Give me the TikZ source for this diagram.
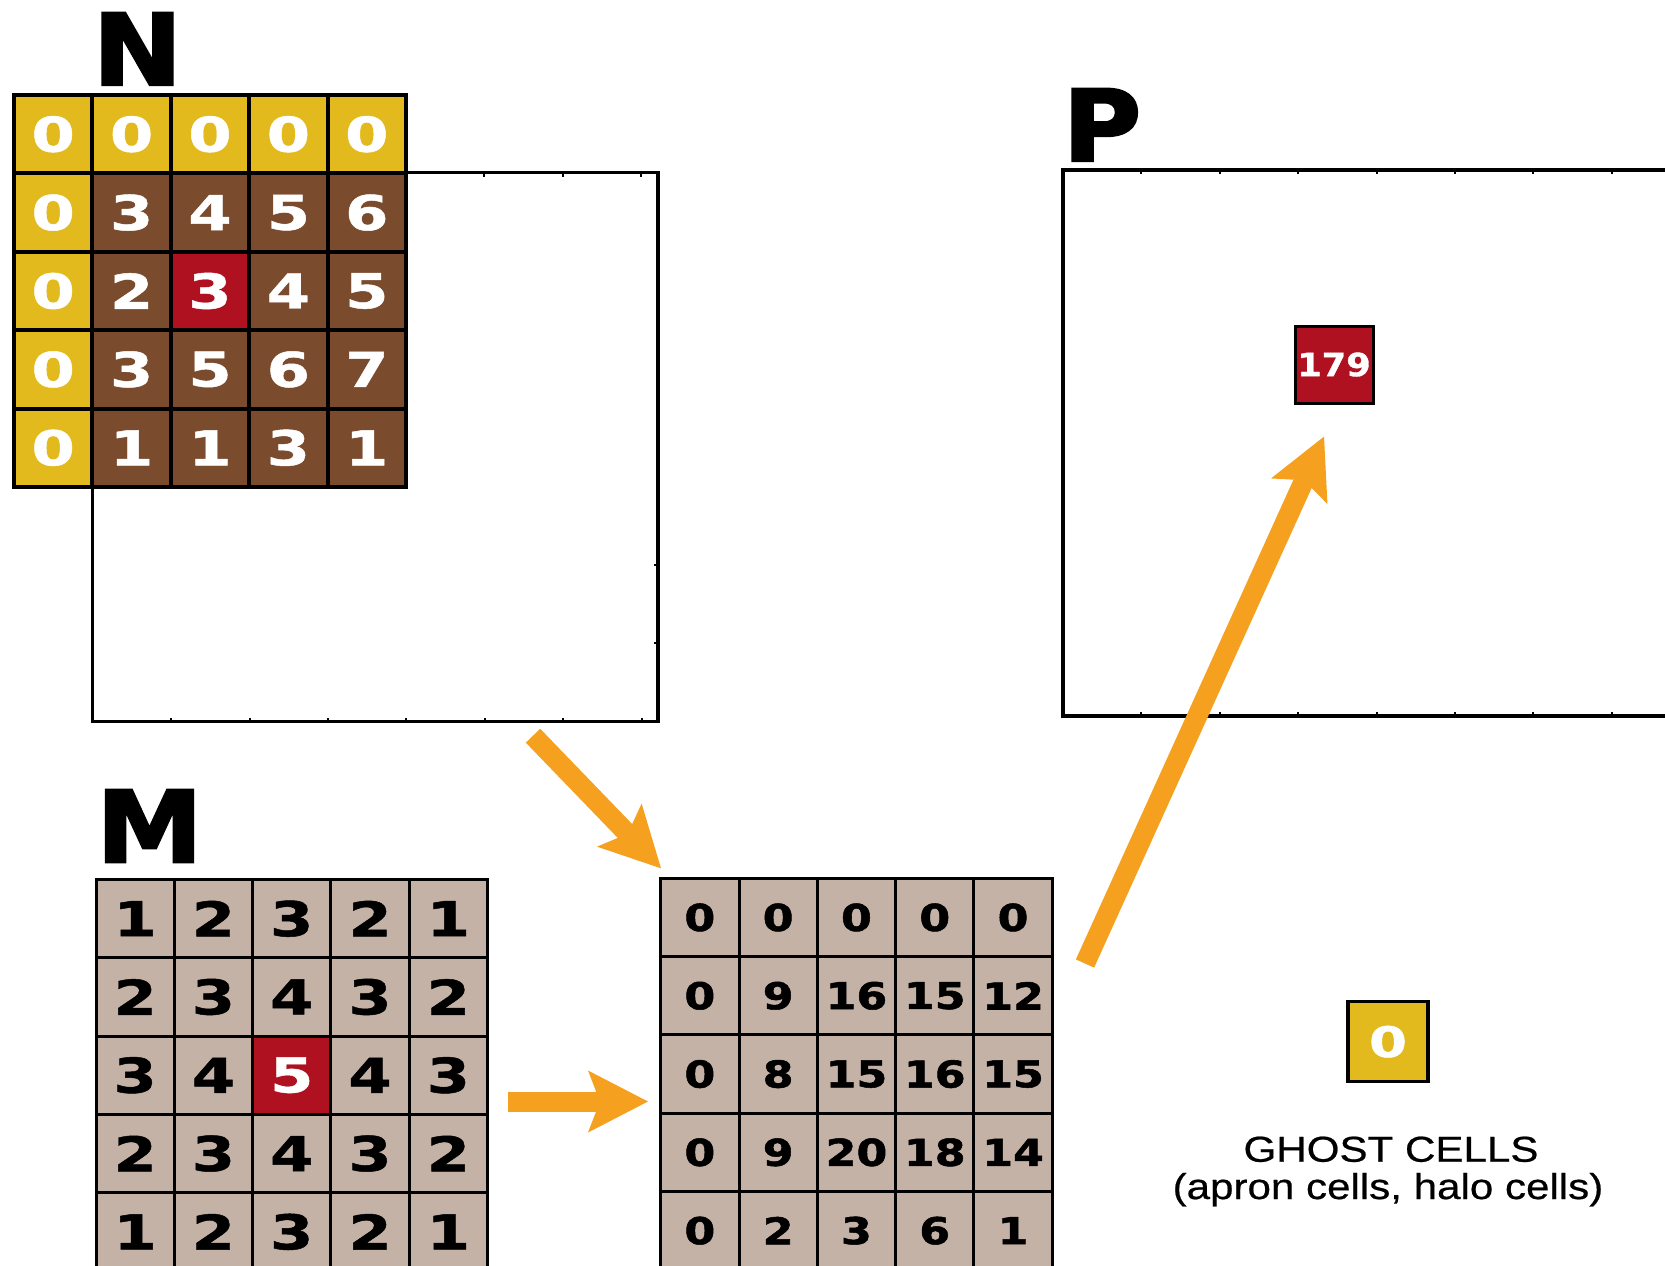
\documentclass[tikz,border=0pt]{standalone}
\usepackage{fontspec}
\usetikzlibrary{arrows.meta}
\newfontfamily\numfont{DejaVu Sans Bold}[FakeStretch=1.3, FakeBold=1]
\newfontfamily\cnumfont{DejaVu Sans Bold}[FakeStretch=1.2, FakeBold=1.4]
\newfontfamily\pnumfont{DejaVu Sans Bold}[FakeStretch=1.1, FakeBold=1]
\newfontfamily\bigfont{DejaVu Sans Bold}[FakeStretch=1.08, FakeBold=2.5]
\newfontfamily\lblfont{Liberation Sans}[FakeStretch=1.17, FakeBold=0.6]
\definecolor{ghostY}{RGB}{227,186,30}
\definecolor{brownN}{RGB}{122,75,45}
\definecolor{redC}{RGB}{176,17,32}
\definecolor{tanM}{RGB}{196,178,166}
\definecolor{orangeA}{RGB}{245,160,30}
\begin{document}
\begin{tikzpicture}[x=1pt,y=-1pt,
  ncell/.style={draw=black, line width=4pt, minimum size=78.4pt, inner sep=0pt, outer sep=0pt, text=white, font=\numfont\fontsize{48}{48}\selectfont},
  mcell/.style={draw=black, line width=3pt, minimum size=78.3pt, inner sep=0pt, outer sep=0pt, font=\numfont\fontsize{48}{48}\selectfont},
  ccell/.style={draw=black, line width=3pt, minimum size=78.3pt, inner sep=0pt, outer sep=0pt, fill=tanM, text=black, font=\cnumfont\fontsize{37}{37}\selectfont},
  bigL/.style={inner sep=0pt, outer sep=0pt, text=black, font=\bigfont\fontsize{99}{99}\selectfont},
  frame/.style={draw=black, line width=3.5pt, inner sep=0pt, outer sep=0pt, anchor=north west},
  tick/.style={draw=black, line width=2pt},
  arr/.style={draw=orangeA, line width=20pt, -{Stealth[length=60pt 0 0, width=62pt 0 0, inset=12pt 0 0, line width=0pt 0 0, fill=orangeA]}},
  lbl/.style={inner sep=0pt, text=black, font=\lblfont\fontsize{36}{36}\selectfont}
]
\useasboundingbox (0,0) rectangle (1665,1266);
\fill[white] (0,0) rectangle (1665,1266);

% ---------- N : big frame and ticks ----------
\node[frame, minimum width=565.3pt, minimum height=548.8pt] (nbox) at (92.7,172.7) {};
\foreach \k in {1,...,7} \draw[tick] ({92.7+78.4*\k},721.5) -- ++(0,-4);
\foreach \k in {1,...,3} \draw[tick] ({406+78.4*\k},172.7) -- ++(0,4);
\foreach \k in {5,6} \draw[tick] (658,{172.7+78.4*\k}) -- ++(-4,0);

% ---------- N grid ----------
\foreach \row [count=\r from 0] in {{0,0,0,0,0},{0,3,4,5,6},{0,2,3,4,5},{0,3,5,6,7},{0,1,1,3,1}}{
  \foreach \v [count=\c from 0] in \row {
    \def\fc{brownN}
    \ifnum\r=0 \def\fc{ghostY}\fi
    \ifnum\c=0 \def\fc{ghostY}\fi
    \ifnum\r=2 \ifnum\c=2 \def\fc{redC}\fi\fi
    \node[ncell, fill=\fc] (n-\r-\c) at ({14+78.4*(\c+0.5)},{95+78.4*(\r+0.5)}) {\v};
  }
}
\node[bigL, anchor=base] (lblN) at (137.5,85) {N};

% ---------- M grid ----------
\foreach \row [count=\r from 0] in {{1,2,3,2,1},{2,3,4,3,2},{3,4,5,4,3},{2,3,4,3,2},{1,2,3,2,1}}{
  \foreach \v [count=\c from 0] in \row {
    \def\fc{tanM}\def\tc{black}
    \ifnum\r=2 \ifnum\c=2 \def\fc{redC}\def\tc{white}\fi\fi
    \node[mcell, fill=\fc, text=\tc] (m-\r-\c) at ({96+78.3*(\c+0.5)},{879.5+78.3*(\r+0.5)}) {\v};
  }
}
\node[bigL, anchor=base] (lblM) at (149.5,862) {M};

% ---------- convolution result grid ----------
\foreach \row [count=\r from 0] in {{0,0,0,0,0},{0,9,16,15,12},{0,8,15,16,15},{0,9,20,18,14},{0,2,3,6,1}}{
  \foreach \v [count=\c from 0] in \row {
    \node[ccell] (c-\r-\c) at ({660.7+78.3*(\c+0.5)},{878.3+78.3*(\r+0.5)}) {\v};
  }
}

% ---------- P ----------
\node[frame, minimum width=700pt, minimum height=546pt] (pbox) at (1063,170) {};
\foreach \k in {1,...,7} {
  \draw[tick] ({1063+78.4*\k},170) -- ++(0,4);
  \draw[tick] ({1063+78.4*\k},716) -- ++(0,-4);
}
\node[bigL, anchor=base] (lblP) at (1102,161) {P};
\node[draw=black, line width=3pt, fill=redC, minimum width=78pt, minimum height=77pt, inner sep=0pt, text=white, font=\pnumfont\fontsize{32}{32}\selectfont] (pcell) at (1334,364.5) {179};

% ---------- arrows ----------
\coordinate (a1s) at (533,735.7);
\coordinate (a1e) at (661,868.3);
\coordinate (a2s) at (508,1101.5);
\coordinate (a2e) at (648,1101.5);
\coordinate (a3s) at (1085,963.5);
\coordinate (a3e) at (1324,436.6);
\draw[arr] (a1s) -- (a1e);
\draw[arr] (a2s) -- (a2e);
\draw[arr] (a3s) -- (a3e);

% ---------- legend ----------
\node[draw=black, line width=3.5pt, fill=ghostY, minimum size=80pt, inner sep=0pt, text=white, font=\numfont\fontsize{42}{42}\selectfont] (ghost) at (1388,1041.7) {0};
\node[lbl, anchor=base] (ghostT1) at (1391,1161.7) {GHOST CELLS};
\node[lbl, anchor=base] (ghostT2) at (1388,1199) {(apron cells, halo cells)};
\end{tikzpicture}
\end{document}
